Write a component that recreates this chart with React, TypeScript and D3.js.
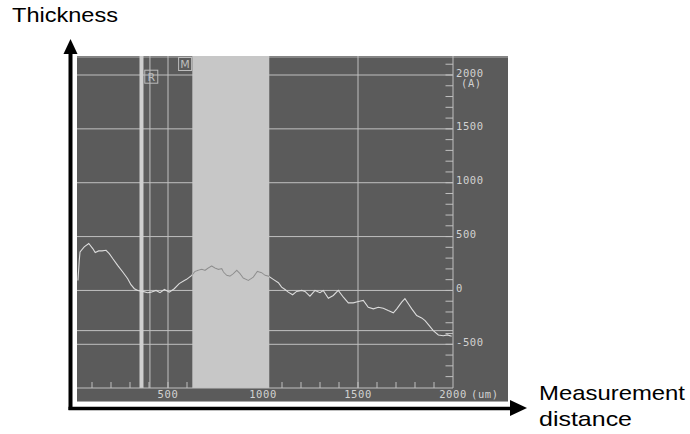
import React, { useEffect, useRef } from 'react';
import * as d3 from 'd3';

// measured profile (distance in um, thickness in A)
const distance = [26, 33, 37, 59, 83, 104, 117, 135, 153, 174, 191, 209, 235, 262, 288, 305, 323, 341, 367, 393,
  411, 437, 458, 481, 507, 533, 559, 586, 598, 625, 642, 659, 677, 695, 712, 730, 747, 765, 783, 792,
  809, 826, 844, 862, 879, 896, 923, 949, 970, 993, 1011, 1028, 1054, 1081, 1098, 1116, 1133, 1156, 1177, 1204,
  1221, 1247, 1274, 1300, 1317, 1344, 1370, 1396, 1423, 1449, 1475, 1502, 1528, 1554, 1581, 1607, 1633, 1659, 1686, 1704,
  1730, 1747, 1765, 1783, 1809, 1835, 1853, 1875, 1896, 1923, 1949, 1970, 1993];
const thickness = [93, 280, 357, 404, 436, 389, 352, 367, 367, 373, 342, 296, 233, 171, 109, 53, 16, 0, -9, -21,
  -16, 0, -21, 9, -16, 16, 63, 93, 103, 140, 177, 187, 196, 187, 208, 227, 208, 196, 202, 171,
  140, 133, 156, 187, 156, 115, 93, 124, 177, 165, 140, 133, 103, 72, 31, 9, -16, -40, -9, 0,
  -9, -53, 0, -21, 0, -72, -47, 0, -63, -115, -115, -103, -93, -156, -171, -156, -165, -187, -208, -171,
  -109, -77, -124, -171, -233, -255, -280, -327, -373, -413, -420, -413, -426];

const yGrid = [2000, 1500, 1000, 500, 0, -500];
const yLabels = ['2000', '1500', '1000', '500', '0', '-500'];
const xGrid = [500, 1000, 1500];
const xLabels = [0, 500, 1000, 1500, 2000];
const cursorLevel = -373;
const brightBand = [350, 371];
const cursorR = 405;
const shadedBand = [628, 1033];
const markerR = 412;
const markerM = 590;

export default function App() {
  const ref = useRef<SVGSVGElement>(null);

  useEffect(() => {
    const svg = d3.select(ref.current);
    svg.selectAll('*').remove();

    const x = d3.scaleLinear().domain([0, 2000]).range([73, 453]);
    const y = d3.scaleLinear().domain([-500, 2000]).range([344.3, 75]);
    const left = 77, right = 453, top = 56, bottom = 388;
    const photoRight = 508, photoBottom = 402;
    const lineCol = '#c0c0c0';
    const txtCol = '#d2d2d2';
    const mono = 'DejaVu Sans Mono';

    const defs = svg.append('defs');
    defs.append('clipPath').attr('id', 'photo')
      .append('rect').attr('x', left).attr('y', top)
      .attr('width', photoRight - left).attr('height', photoBottom - top);
    defs.append('clipPath').attr('id', 'band')
      .append('rect').attr('x', x(shadedBand[0])).attr('y', top)
      .attr('width', x(shadedBand[1]) - x(shadedBand[0])).attr('height', bottom - top);

    const g = svg.append('g').attr('clip-path', 'url(#photo)');

    // screen background
    g.append('rect').attr('x', left).attr('y', top)
      .attr('width', photoRight - left).attr('height', photoBottom - top)
      .attr('fill', '#5b5b5b');
    g.append('line').attr('x1', left).attr('x2', photoRight).attr('y1', top + 1).attr('y2', top + 1)
      .attr('stroke', '#858585').attr('stroke-width', 2);
    g.append('line').attr('x1', left).attr('x2', photoRight).attr('y1', photoBottom - 0.5).attr('y2', photoBottom - 0.5)
      .attr('stroke', '#a8a8a8').attr('stroke-width', 1);

    // horizontal grid
    g.selectAll('.hg').data([...yGrid, cursorLevel]).join('line').attr('class', 'hg')
      .attr('x1', left).attr('x2', right)
      .attr('y1', d => y(d)).attr('y2', d => y(d))
      .attr('stroke', lineCol).attr('stroke-width', 1);

    // vertical grid + cursor line
    g.selectAll('.vg').data([...xGrid, cursorR]).join('line').attr('class', 'vg')
      .attr('x1', d => x(d)).attr('x2', d => x(d))
      .attr('y1', top).attr('y2', bottom)
      .attr('stroke', lineCol).attr('stroke-width', 1);

    // bright reference line
    g.append('rect').attr('x', x(brightBand[0])).attr('width', x(brightBand[1]) - x(brightBand[0]))
      .attr('y', top).attr('height', bottom - top).attr('fill', '#cfcfcf');

    // shaded measurement band
    g.append('rect').attr('x', x(shadedBand[0])).attr('width', x(shadedBand[1]) - x(shadedBand[0]))
      .attr('y', top).attr('height', bottom - top).attr('fill', '#c7c7c7');

    // right axis
    g.append('line').attr('x1', right).attr('x2', right).attr('y1', top).attr('y2', bottom)
      .attr('stroke', lineCol);
    g.selectAll('.yt').data(d3.range(-800, 2101, 100)).join('line').attr('class', 'yt')
      .attr('x1', right - 7.5).attr('x2', right)
      .attr('y1', d => y(d)).attr('y2', d => y(d))
      .attr('stroke', lineCol);
    g.selectAll('.yl').data(yGrid).join('text').attr('class', 'yl')
      .attr('x', right + 3).attr('y', d => y(d) + 1.5)
      .attr('font-family', mono).attr('font-size', 10.5)
      .attr('letter-spacing', 0.6).attr('fill', txtCol)
      .text((d, i) => yLabels[i]);
    g.append('text').attr('x', right + 8).attr('y', y(2000) + 12)
      .attr('font-family', mono).attr('font-size', 10.5)
      .attr('letter-spacing', 0.6).attr('fill', txtCol).text('(A)');

    // bottom axis
    g.append('line').attr('x1', left).attr('x2', right).attr('y1', bottom).attr('y2', bottom)
      .attr('stroke', lineCol);
    g.selectAll('.xt').data(d3.range(100, 2000, 100).filter(v => v < shadedBand[0] || v > shadedBand[1]))
      .join('line').attr('class', 'xt')
      .attr('x1', d => x(d)).attr('x2', d => x(d))
      .attr('y1', bottom - 6).attr('y2', bottom)
      .attr('stroke', lineCol);
    g.selectAll('.xl').data(xLabels).join('text').attr('class', 'xl')
      .attr('x', d => x(d)).attr('y', 398)
      .attr('text-anchor', 'middle')
      .attr('font-family', mono).attr('font-size', 10.5)
      .attr('letter-spacing', 0.6).attr('fill', txtCol)
      .text(d => String(d));
    g.append('text').attr('x', x(2000) + 18).attr('y', 398)
      .attr('font-family', mono).attr('font-size', 10.5)
      .attr('letter-spacing', 0.6).attr('fill', txtCol).text('(um)');

    // markers
    const markers = [{ v: markerR, cy: 76.7, t: 'R' }, { v: markerM, cy: 64, t: 'M' }];
    const mk = g.selectAll('.mk').data(markers).join('g').attr('class', 'mk');
    mk.append('rect').attr('x', d => x(d.v) - 6.5).attr('y', d => d.cy - 6.5)
      .attr('width', 13).attr('height', 13).attr('fill', 'none')
      .attr('stroke', '#bdbdbd').attr('stroke-width', 1);
    mk.append('text').attr('x', d => x(d.v)).attr('y', d => d.cy + 4)
      .attr('text-anchor', 'middle').attr('font-family', 'DejaVu Sans').attr('font-size', 11)
      .attr('fill', '#bdbdbd').text(d => d.t);

    // profile: light on the dark screen, darker where it crosses the band
    const pts = distance.map((d, i) => [d, thickness[i]] as [number, number]);
    const line = d3.line<[number, number]>().x(d => x(d[0])).y(d => y(d[1]));
    g.append('path').datum(pts).attr('d', line)
      .attr('fill', 'none').attr('stroke', '#dcdcdc').attr('stroke-width', 1.1);
    g.append('path').datum(pts).attr('d', line).attr('clip-path', 'url(#band)')
      .attr('fill', 'none').attr('stroke', '#8e8e8e').attr('stroke-width', 1.1);

    // black axes arrows
    svg.append('line').attr('x1', 70.5).attr('x2', 70.5).attr('y1', 410).attr('y2', 50)
      .attr('stroke', '#000').attr('stroke-width', 4);
    svg.append('path').attr('d', 'M70.5,39 L77.5,54 L63.5,54 Z').attr('fill', '#000');
    svg.append('line').attr('x1', 68.5).attr('x2', 512).attr('y1', 408.5).attr('y2', 408.5)
      .attr('stroke', '#000').attr('stroke-width', 3.5);
    svg.append('path').attr('d', 'M527,408 L510,400 L510,416 Z').attr('fill', '#000');

    // axis titles
    const font = 'Liberation Sans, Arial, sans-serif';
    svg.append('text').attr('x', 12).attr('y', 22).attr('font-family', font).attr('font-size', 21)
      .attr('textLength', 106).attr('lengthAdjust', 'spacingAndGlyphs').text('Thickness');
    svg.append('text').attr('x', 539).attr('y', 400).attr('font-family', font).attr('font-size', 21)
      .attr('textLength', 146).attr('lengthAdjust', 'spacingAndGlyphs').text('Measurement');
    svg.append('text').attr('x', 539).attr('y', 426).attr('font-family', font).attr('font-size', 21)
      .attr('textLength', 93).attr('lengthAdjust', 'spacingAndGlyphs').text('distance');
  }, []);

  return (
    <svg ref={ref} width={690} height={434}
      style={{ position: 'absolute', left: 0, top: 0, background: '#fff' }} />
  );
}
